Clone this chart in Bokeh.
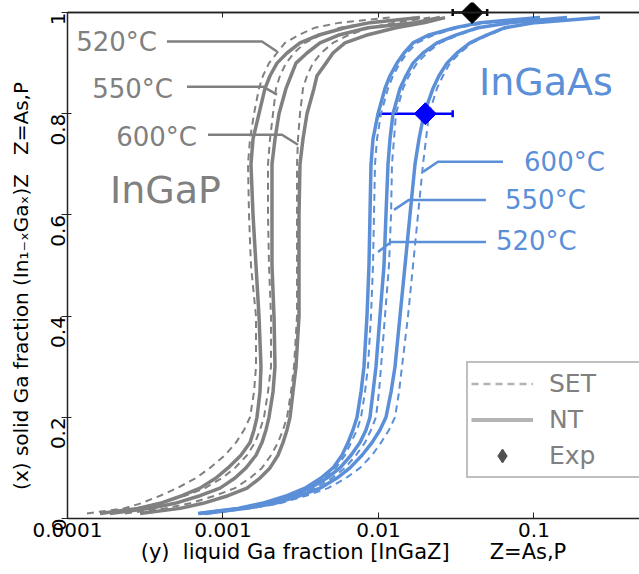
import numpy as np
from bokeh.plotting import figure
from bokeh.models import (ColumnDataSource, FixedTicker, LogAxis, Legend, Span,
                          LegendItem, Whisker, TeeHead, Range1d)
from bokeh.core.properties import value
from bokeh.embed import file_html
from bokeh.resources import INLINE

# ---------------- data ----------------
# solid Ga fraction x (vertical axis), shared by all curves
solid_x = [0.01, 0.02, 0.03, 0.045, 0.06, 0.08, 0.1, 0.125, 0.15, 0.175, 0.2, 0.25, 0.3,
           0.4, 0.5, 0.6, 0.7, 0.75, 0.8, 0.85, 0.875, 0.9, 0.92, 0.94, 0.955, 0.97, 0.98, 0.99]

# liquid Ga fraction y (horizontal axis) -- InGaP
ingap_520_set = [1.334e-4, 2.309e-4, 2.97e-4, 3.94e-4, 5.06e-4, 6.705e-4, 8.25e-4, 1.030e-3,
                 1.212e-3, 1.365e-3, 1.492e-3, 1.583e-3, 1.630e-3, 1.630e-3, 1.513e-3, 1.470e-3,
                 1.448e-3, 1.492e-3, 1.583e-3, 1.704e-3, 1.808e-3, 1.976e-3, 2.225e-3, 2.504e-3,
                 3.036e-3, 3.905e-3, 5.655e-3, 1.186e-2]
ingap_520_nt = [1.618e-4, 2.840e-4, 3.94e-4, 5.449e-4, 7.11e-4, 9.016e-4, 1.077e-3, 1.305e-3,
                1.492e-3, 1.583e-3, 1.654e-3, 1.729e-3, 1.755e-3, 1.704e-3, 1.630e-3, 1.560e-3,
                1.513e-3, 1.560e-3, 1.704e-3, 1.863e-3, 2.006e-3, 2.225e-3, 2.580e-3, 3.127e-3,
                4.082e-3, 6.089e-3, 8.816e-3, 1.849e-2]
ingap_550_set = [1.618e-4, 2.716e-4, 3.94e-4, 5.697e-4, 7.66e-4, 9.853e-4, 1.195e-3, 1.427e-3,
                 1.606e-3, 1.729e-3, 1.835e-3, 1.947e-3, 2.036e-3, 2.036e-3, 1.976e-3, 1.947e-3,
                 1.947e-3, 2.006e-3, 2.097e-3, 2.192e-3, 2.326e-3, 2.542e-3, 2.861e-3, 3.367e-3,
                 4.206e-3, 5.655e-3, 8.816e-3, 1.717e-2]
ingap_550_nt = [1.876e-4, 3.393e-4, 4.91e-4, 7.11e-4, 9.57e-4, 1.195e-3, 1.406e-3, 1.630e-3,
                1.781e-3, 1.890e-3, 1.976e-3, 2.097e-3, 2.160e-3, 2.128e-3, 2.066e-3, 2.066e-3,
                2.066e-3, 2.160e-3, 2.292e-3, 2.542e-3, 2.737e-3, 2.948e-3, 3.469e-3, 4.206e-3,
                5.490e-3, 8.558e-3, 1.717e-2, 2.486e-2]
ingap_600_set = [2.343e-4, 4.236e-4, 6.14e-4, 8.883e-4, 1.195e-3, 1.492e-3, 1.781e-3, 2.036e-3,
                 2.258e-3, 2.431e-3, 2.580e-3, 2.737e-3, 2.861e-3, 2.992e-3, 2.992e-3, 2.992e-3,
                 2.992e-3, 3.036e-3, 3.127e-3, 3.269e-3, 3.469e-3, 3.791e-3, 4.268e-3, 5.098e-3,
                 6.365e-3, 8.816e-3, 1.277e-2, 2.144e-2]
ingap_600_nt = [2.93e-4, 5.290e-4, 7.44e-4, 1.077e-3, 1.427e-3, 1.729e-3, 2.006e-3, 2.258e-3,
                2.431e-3, 2.580e-3, 2.697e-3, 2.819e-3, 2.948e-3, 3.082e-3, 3.082e-3, 3.082e-3,
                3.127e-3, 3.269e-3, 3.469e-3, 3.848e-3, 4.022e-3, 4.597e-3, 5.098e-3, 6.089e-3,
                8.310e-3, 1.296e-2, 1.991e-2, 2.678e-2]

# liquid Ga fraction y -- InGaAs
ingaas_520_nt = [6.91e-4, 1.249e-3, 1.781e-3, 2.580e-3, 3.367e-3, 4.268e-3, 5.098e-3, 5.826e-3,
                 6.365e-3, 6.855e-3, 7.274e-3, 7.72e-3, 8.066e-3, 8.433e-3, 8.686e-3, 8.816e-3,
                 8.948e-3, 9.217e-3, 9.93e-3, 1.101e-2, 1.186e-2, 1.315e-2, 1.459e-2, 1.667e-2,
                 2.081e-2, 3.105e-2, 4.496e-2, 0.1093]
ingaas_520_set = [7.11e-4, 1.286e-3, 1.863e-3, 2.697e-3, 3.520e-3, 4.462e-3, 5.330e-3, 6.089e-3,
                  6.654e-3, 7.274e-3, 7.72e-3, 8.187e-3, 8.558e-3, 8.948e-3, 9.217e-3, 9.356e-3,
                  9.495e-3, 9.781e-3, 1.038e-2, 1.151e-2, 1.240e-2, 1.375e-2, 1.525e-2, 1.769e-2,
                  2.241e-2, 3.246e-2, 5.061e-2, 0.1177]
ingaas_550_nt = [7.11e-4, 1.286e-3, 1.863e-3, 2.778e-3, 3.626e-3, 4.665e-3, 5.655e-3, 6.654e-3,
                 7.603e-3, 8.310e-3, 8.816e-3, 9.217e-3, 9.636e-3, 1.022e-2, 1.085e-2, 1.117e-2,
                 1.151e-2, 1.186e-2, 1.240e-2, 1.375e-2, 1.503e-2, 1.667e-2, 1.933e-2, 2.378e-2,
                 3.105e-2, 4.365e-2, 7.010e-2, 0.1630]
ingaas_550_set = [7.44e-4, 1.345e-3, 2.006e-3, 2.948e-3, 3.905e-3, 5.023e-3, 6.089e-3, 7.166e-3,
                  8.187e-3, 8.948e-3, 9.636e-3, 1.007e-2, 1.038e-2, 1.101e-2, 1.168e-2, 1.204e-2,
                  1.221e-2, 1.258e-2, 1.296e-2, 1.438e-2, 1.571e-2, 1.769e-2, 2.051e-2, 2.486e-2,
                  3.246e-2, 4.496e-2, 7.221e-2, 0.1630]
ingaas_600_nt = [7.66e-4, 1.406e-3, 2.160e-3, 3.127e-3, 4.206e-3, 5.409e-3, 6.556e-3, 7.834e-3,
                 9.081e-3, 1.022e-2, 1.117e-2, 1.204e-2, 1.277e-2, 1.375e-2, 1.481e-2, 1.594e-2,
                 1.717e-2, 1.822e-2, 1.962e-2, 2.241e-2, 2.449e-2, 2.758e-2, 3.198e-2, 3.877e-2,
                 4.912e-2, 6.510e-2, 0.1015, 0.2657]
ingaas_600_set = [8.01e-4, 1.492e-3, 2.326e-3, 3.418e-3, 4.735e-3, 6.180e-3, 7.603e-3, 9.081e-3,
                  1.038e-2, 1.168e-2, 1.277e-2, 1.355e-2, 1.416e-2, 1.548e-2, 1.667e-2, 1.795e-2,
                  1.933e-2, 2.021e-2, 2.113e-2, 2.378e-2, 2.599e-2, 2.883e-2, 3.344e-2, 3.994e-2,
                  5.061e-2, 6.706e-2, 0.1045, 0.2657]

# experimental points (liquid y with error range, solid x)
exp_ingap_liquid = [0.04]
exp_ingap_solid = [1.0]
exp_ingap_lo = [0.03]
exp_ingap_hi = [0.05]
exp_ingaas_liquid = [0.02]
exp_ingaas_solid = [0.8]
exp_ingaas_lo = [0.01]
exp_ingaas_hi = [0.03]

# temperature labels and their leader lines
temp_labels = ["520°C", "550°C", "600°C"]
gap_label_x = [3.76e-4, 4.77e-4, 6.80e-4]
gap_label_y = [0.9426, 0.8495, 0.7545]
gap_leader_x = [[4.36e-4, 1.781e-3, 2.225e-3], [5.87e-4, 1.808e-3, 2.225e-3], [8.01e-4, 2.395e-3, 3.036e-3]]
gap_leader_y = [[0.9426, 0.9426, 0.9228], [0.8535, 0.8535, 0.8376], [0.7584, 0.7584, 0.7386]]
gaas_label_x = [5.69e-2, 6.51e-2, 8.63e-2]
gaas_label_y = [0.5485, 0.6297, 0.7050]
gaas_leader_x = [[9.93e-3, 1.204e-2, 4.91e-2], [1.258e-2, 1.571e-2, 4.91e-2], [1.933e-2, 2.413e-2, 6.32e-2]]
gaas_leader_y = [[0.5267, 0.5465, 0.5465], [0.6099, 0.6297, 0.6297], [0.6851, 0.7050, 0.7050]]

x_ticks = [1e-4, 1e-3, 1e-2, 1e-1]
x_tick_labels = ["0.0001", "0.001", "0.01", "0.1"]
y_ticks = [0, 0.2, 0.4, 0.6, 0.8, 1.0]
y_tick_labels = ["0", "0.2", "0.4", "0.6", "0.8", "1"]

# ---------------- styling ----------------
GRAY = "#808080"
BLUE = "#5b8fd8"
FONT = "DejaVu Sans"
NB = "\u00a0"

p = figure(width=639, height=574, x_axis_type="log",
           x_range=Range1d(1e-4, 0.477), y_range=Range1d(0, 1.0198),
           output_backend="svg", toolbar_location=None,
           min_border_left=67, min_border_right=0, min_border_top=2, min_border_bottom=56)
p.outline_line_color = None
p.grid.visible = False
p.background_fill_color = "white"
p.border_fill_color = "white"

# bottom axis
xa = p.xaxis[0]
xa.ticker = FixedTicker(ticks=x_ticks)
xa.major_label_overrides = {t: l for t, l in zip(x_ticks, x_tick_labels)}
xa.major_tick_in = 6
xa.major_tick_out = 0
xa.minor_tick_line_color = None
xa.major_label_standoff = 4
xa.major_label_text_font = FONT
xa.major_label_text_font_size = "20px"
xa.major_label_text_color = "black"
xa.axis_line_color = "#222222"
xa.axis_line_width = 1.5
xa.major_tick_line_color = "#222222"
xa.axis_label = "(y)" + NB * 2 + "liquid Ga fraction [InGaZ]" + NB * 6 + "Z=As,P"
xa.axis_label_text_font = FONT
xa.axis_label_text_font_style = "normal"
xa.axis_label_text_font_size = "21px"
xa.axis_label_text_color = "black"
xa.axis_label_standoff = 0

# left axis
ya = p.yaxis[0]
ya.ticker = FixedTicker(ticks=y_ticks)
ya.major_label_overrides = {t: l for t, l in zip(y_ticks, y_tick_labels)}
ya.bounds = (0, 1)
ya.major_label_orientation = np.pi / 2
ya.major_tick_in = 4
ya.major_tick_out = 6
ya.minor_tick_line_color = None
ya.major_label_standoff = 3
ya.major_label_text_font = FONT
ya.major_label_text_font_size = "20px"
ya.major_label_text_color = "black"
ya.axis_line_color = "#222222"
ya.axis_line_width = 1.5
ya.major_tick_line_color = "#222222"
ya.axis_label = "(x) solid Ga fraction (In\u2081\u208b\u2093Ga\u2093)Z" + NB * 3 + "Z=As,P" + NB * 8
ya.axis_label_text_font = FONT
ya.axis_label_text_font_style = "normal"
ya.axis_label_text_font_size = "20px"
ya.axis_label_text_color = "black"
ya.axis_label_standoff = 9

# top frame line at x=1 with inward ticks
top = LogAxis(ticker=FixedTicker(ticks=x_ticks), fixed_location=1.0,
              major_label_overrides={t: "" for t in x_ticks})
top.major_tick_in = 5
top.major_tick_out = 0
top.minor_tick_line_color = None
top.major_label_standoff = 0
top.major_label_text_font_size = "0px"
top.axis_line_color = "#222222"
top.axis_line_width = 1.5
top.major_tick_line_color = "#222222"
p.add_layout(top, "above")
p.add_layout(Span(location=1.0, dimension="width", line_color="#222222", line_width=1.5))

# ---------------- curves ----------------
curves = [
    (ingap_520_set, GRAY, "dashed"), (ingap_550_set, GRAY, "dashed"), (ingap_600_set, GRAY, "dashed"),
    (ingaas_520_set, BLUE, "dashed"), (ingaas_550_set, BLUE, "dashed"), (ingaas_600_set, BLUE, "dashed"),
    (ingap_520_nt, GRAY, "solid"), (ingap_550_nt, GRAY, "solid"), (ingap_600_nt, GRAY, "solid"),
    (ingaas_520_nt, BLUE, "solid"), (ingaas_550_nt, BLUE, "solid"), (ingaas_600_nt, BLUE, "solid"),
]
for liq, col, style in curves:
    if style == "dashed":
        p.line(x=liq, y=solid_x, line_color=col, line_width=2, line_dash="7 5")
    else:
        p.line(x=liq, y=solid_x, line_color=col, line_width=3.5, line_join="round")

# leader lines
p.multi_line(xs=gap_leader_x, ys=gap_leader_y, line_color=GRAY, line_width=2.5)
p.multi_line(xs=gaas_leader_x, ys=gaas_leader_y, line_color=BLUE, line_width=2.5)

# temperature labels
p.text(x=gap_label_x, y=gap_label_y, text=temp_labels, text_color=GRAY,
       text_font=value(FONT), text_font_size=value("26px"),
       text_align="right", text_baseline="middle")
p.text(x=gaas_label_x, y=gaas_label_y, text=temp_labels, text_color=BLUE,
       text_font=value(FONT), text_font_size=value("26px"),
       text_align="left", text_baseline="middle")

# material labels
p.text(x=[1.876e-4], y=[0.6495], text=["InGaP"], text_color=GRAY,
       text_font=value(FONT), text_font_size=value("38px"),
       text_align="left", text_baseline="middle")
p.text(x=[4.43e-2], y=[0.8634], text=["InGaAs"], text_color=BLUE,
       text_font=value(FONT), text_font_size=value("38px"),
       text_align="left", text_baseline="middle")

# experimental points with error bars
src_gap = ColumnDataSource(dict(x=exp_ingap_liquid, y=exp_ingap_solid, lo=exp_ingap_lo, hi=exp_ingap_hi))
src_gaas = ColumnDataSource(dict(x=exp_ingaas_liquid, y=exp_ingaas_solid, lo=exp_ingaas_lo, hi=exp_ingaas_hi))
for src, col in [(src_gap, "black"), (src_gaas, "#0000ff")]:
    w = Whisker(source=src, base="y", lower="lo", upper="hi", dimension="width",
                line_color=col, line_width=2.5,
                lower_head=TeeHead(size=7, line_color=col, line_width=2.5),
                upper_head=TeeHead(size=7, line_color=col, line_width=2.5))
    p.add_layout(w)
    p.scatter(x="x", y="y", source=src, marker="square", angle=np.pi / 4,
              size=15.5, fill_color=col, line_color=col)

# legend (proxy renderers, one empty point each)
r_set = p.line(x=[np.nan], y=[np.nan], line_color="#b4b4b4", line_width=2.5, line_dash="7 5")
r_nt = p.line(x=[np.nan], y=[np.nan], line_color="#b4b4b4", line_width=4)
r_exp = p.scatter(x=[np.nan], y=[np.nan], marker="diamond", size=20,
                  fill_color="#505050", line_color="#505050")
legend = Legend(items=[LegendItem(label="SET", renderers=[r_set]),
                       LegendItem(label="NT", renderers=[r_nt]),
                       LegendItem(label="Exp", renderers=[r_exp])],
                location=(399, 40), orientation="vertical",
                glyph_width=62, glyph_height=35, spacing=1, padding=3, margin=0,
                label_standoff=16, label_width=100,
                label_text_font=FONT, label_text_font_size="25px", label_text_color=GRAY,
                border_line_color=GRAY, border_line_width=2.5,
                background_fill_color="white", background_fill_alpha=1.0)
p.add_layout(legend)

open("out.html", "w").write(file_html(p, INLINE))
